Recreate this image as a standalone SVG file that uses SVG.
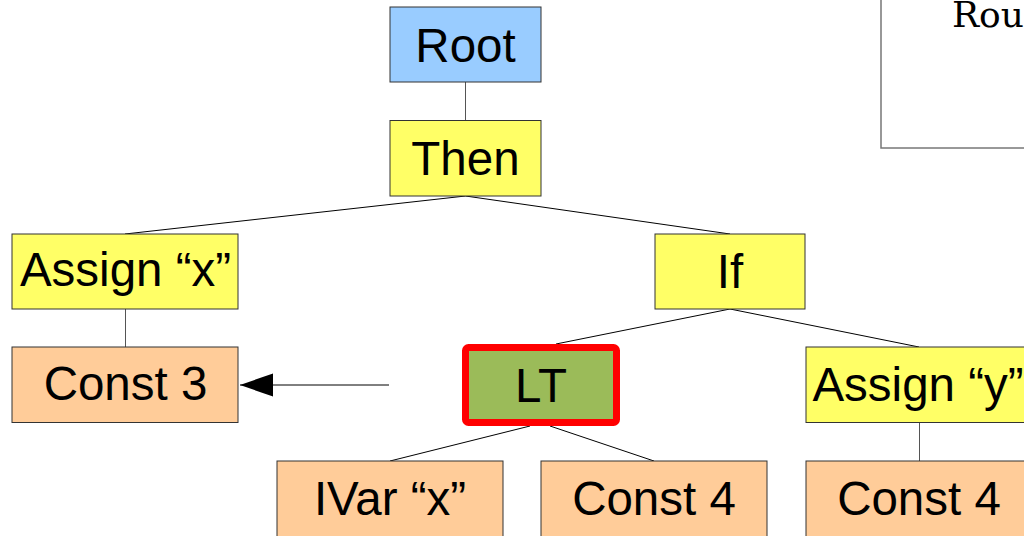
<svg xmlns="http://www.w3.org/2000/svg" width="1024" height="536" viewBox="0 0 1024 536">
<style>
.box{stroke:#333;stroke-width:1}
.blue{fill:#99ccff}
.yel{fill:#ffff66}
.org{fill:#ffcc99}
.lbl{font-family:"Liberation Sans",Arial,sans-serif;font-size:47.5px;fill:#000;text-anchor:middle}
.code{font-family:"DejaVu Serif",serif;font-size:36px;fill:#000}
.edge{stroke:#000;stroke-width:1;fill:none}
.vedge{stroke:#555;stroke-width:1;fill:none}
</style>
<defs>
<marker id="ah" markerWidth="34" markerHeight="24" refX="33" refY="11.5" orient="auto" markerUnits="userSpaceOnUse">
<path d="M0,0 L33,11.5 L0,23 Z" fill="#000"/>
</marker>
</defs>
<rect width="1024" height="536" fill="#fff"/>
<g id="routine">
<rect x="881" y="-10" width="160" height="158" fill="#fff" stroke="#777" stroke-width="1.5"/>
<text class="code" x="952" y="27">Rou</text>
</g>
<g id="connectors">
<line class="vedge" x1="465.5" y1="82" x2="465.5" y2="120"/>
<line class="edge" x1="465.5" y1="196" x2="125" y2="234"/>
<line class="edge" x1="465.5" y1="196" x2="730" y2="234"/>
<line class="vedge" x1="125.5" y1="309" x2="125.5" y2="347"/>
<line class="edge" x1="730" y1="309" x2="556" y2="344"/>
<line class="edge" x1="730" y1="309" x2="919" y2="347"/>
<line class="edge" x1="530" y1="426" x2="390" y2="461"/>
<line class="edge" x1="550" y1="426" x2="654" y2="461"/>
<line class="vedge" x1="919.5" y1="423" x2="919.5" y2="461"/>
<line class="edge" x1="389" y1="385" x2="240" y2="385" marker-end="url(#ah)"/>
</g>
<g id="root"><rect class="box blue" x="390" y="7" width="151" height="75"/><text class="lbl" x="465.5" y="62">Root</text></g>
<g id="then"><rect class="box yel" x="390" y="120.5" width="151" height="75.5"/><text class="lbl" x="465.5" y="175">Then</text></g>
<g id="assignx"><rect class="box yel" x="12" y="234" width="226" height="75"/><text class="lbl" x="125.5" y="286">Assign “x”</text></g>
<g id="if"><rect class="box yel" x="655" y="234" width="150" height="75"/><text class="lbl" x="730" y="288">If</text></g>
<g id="const3"><rect class="box org" x="12" y="347" width="226" height="75.5"/><text class="lbl" x="125.5" y="400">Const 3</text></g>
<g id="lt"><rect x="465.5" y="347.5" width="151" height="75" rx="3" fill="#9bbb59" stroke="#ff0000" stroke-width="7"/><text class="lbl" x="541" y="402">LT</text></g>
<g id="assigny"><rect class="box yel" x="806" y="347" width="230" height="75.5"/><text class="lbl" x="918" y="401">Assign “y”</text></g>
<g id="ivarx"><rect class="box org" x="277" y="461" width="226" height="90"/><text class="lbl" x="390" y="515">IVar “x”</text></g>
<g id="const4a"><rect class="box org" x="541" y="461" width="226" height="90"/><text class="lbl" x="654" y="515">Const 4</text></g>
<g id="const4b"><rect class="box org" x="806" y="461" width="230" height="90"/><text class="lbl" x="919" y="515">Const 4</text></g>
</svg>
